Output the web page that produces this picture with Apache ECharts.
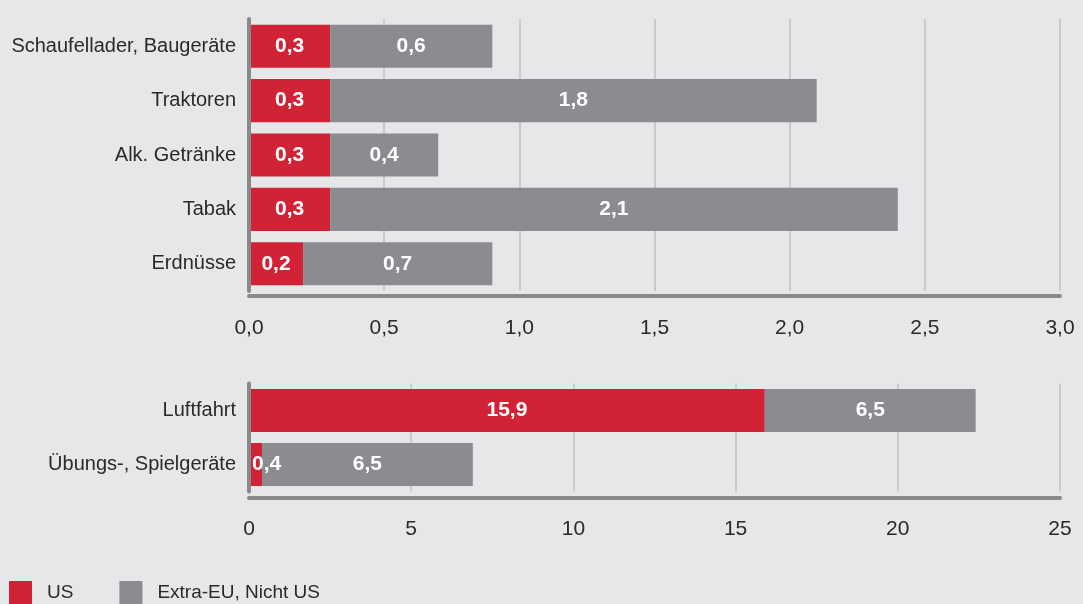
<!DOCTYPE html>
<html><head><meta charset="utf-8">
<script src="https://cdn.jsdelivr.net/npm/echarts@6/dist/echarts.min.js"></script>
<style>html,body{margin:0;padding:0;background:#e6e7e9;}#c{width:1083px;height:604px;}</style>
</head><body><div id="c"></div>
<script>
const topCategories = ['Schaufellader, Baugeräte', 'Traktoren', 'Alk. Getränke', 'Tabak', 'Erdnüsse'];
const topUS = [0.3, 0.3, 0.3, 0.3, 0.2];
const topExtra = [0.6, 1.8, 0.4, 2.1, 0.7];
const bottomCategories = ['Luftfahrt', 'Übungs-, Spielgeräte'];
const bottomUS = [15.9, 0.4];
const bottomExtra = [6.5, 6.5];
const seriesNames = ['US', 'Extra-EU, Nicht US'];

const RED = '#d12236', GREY = '#8b8c8f', FONT = 'Liberation Sans, sans-serif';
const fmt = v => String(v).replace('.', ',');
const lbl = {show: true, position: 'inside', color: '#fff', fontWeight: 'bold', fontSize: 21, fontFamily: FONT,
  formatter: p => fmt(p.value)};
const catAxis = (i, data) => ({type: 'category', gridIndex: i, data, inverse: true, offset: 1, z: 5,
  axisLine: {show: true, lineStyle: {color: '#88898b', width: 4}}, axisTick: {show: false},
  axisLabel: {color: '#2a2a2a', fontSize: 20, fontFamily: FONT, margin: 12}});
const valAxis = (i, max, interval, off, dec, margin) => ({type: 'value', gridIndex: i, min: 0, max, interval, offset: off,
  axisLine: {show: true, onZero: false, lineStyle: {color: '#88898b', width: 4}}, axisTick: {show: false},
  splitLine: {show: true, lineStyle: {color: '#c9cacc', width: 2}},
  axisLabel: {color: '#2a2a2a', fontSize: 21, fontFamily: FONT, margin,
    formatter: v => dec ? v.toFixed(1).replace('.', ',') : String(v)}});

const chart = echarts.init(document.getElementById('c'));
chart.setOption({
  backgroundColor: '#e6e7e9',
  animation: false,
  textStyle: {fontFamily: FONT},
  legend: {left: 4, bottom: -5, icon: 'rect', itemWidth: 23, itemHeight: 23, itemGap: 46,
    textStyle: {fontSize: 19, color: '#2a2a2a', fontFamily: FONT, padding: [0, 0, 0, 10]}, data: seriesNames},
  grid: [
    {left: 249, top: 19, width: 811, height: 272, containLabel: false, outerBoundsMode: 'none'},
    {left: 249, top: 383.5, width: 811, height: 108, containLabel: false, outerBoundsMode: 'none'}
  ],
  xAxis: [valAxis(0, 3, 0.5, 5, true, 22), valAxis(1, 25, 5, 6, false, 21)],
  yAxis: [catAxis(0, topCategories), catAxis(1, bottomCategories)],
  series: [
    {name: seriesNames[0], type: 'bar', stack: 'a', xAxisIndex: 0, yAxisIndex: 0, data: topUS,
      itemStyle: {color: RED}, barCategoryGap: '20.7%', label: lbl},
    {name: seriesNames[1], type: 'bar', stack: 'a', xAxisIndex: 0, yAxisIndex: 0, data: topExtra,
      itemStyle: {color: GREY}, barCategoryGap: '20.7%', label: lbl},
    {name: seriesNames[0], type: 'bar', stack: 'b', xAxisIndex: 1, yAxisIndex: 1,
      data: bottomUS.map((v, i) => i === 1 ? {value: v, label: {position: 'insideLeft', distance: 3}} : v),
      itemStyle: {color: RED}, barCategoryGap: '20.4%', label: lbl},
    {name: seriesNames[1], type: 'bar', stack: 'b', xAxisIndex: 1, yAxisIndex: 1, data: bottomExtra,
      itemStyle: {color: GREY}, barCategoryGap: '20.4%', label: lbl}
  ]
});
</script></body></html>
